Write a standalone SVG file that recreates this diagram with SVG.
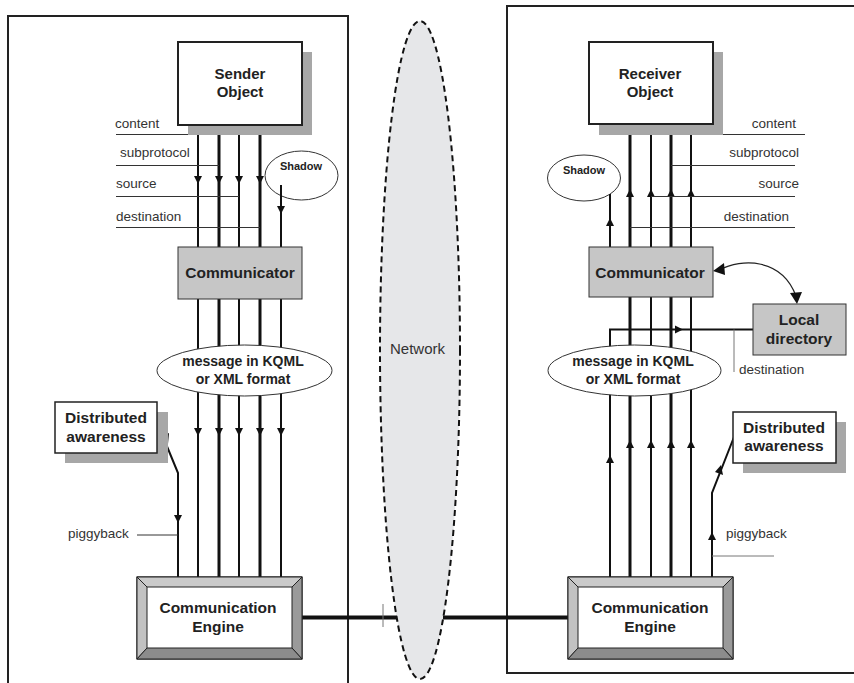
<svg xmlns="http://www.w3.org/2000/svg" xmlns:xlink="http://www.w3.org/1999/xlink" width="854" height="683" viewBox="0 0 854 683">
  <style>
    .bold { font-family: "Liberation Sans", Arial, sans-serif; font-weight: bold; fill: #222; text-anchor: middle; }
    .lbl { font-family: "Liberation Sans", Arial, sans-serif; font-size: 13.5px; fill: #333; }
    .frame { fill: none; stroke: #222; stroke-width: 2; }
    .box { fill: #fff; stroke: #222; stroke-width: 1.5; }
    .gray { fill: #c6c6c6; stroke: #333; stroke-width: 1; }
    .shade { fill: #a7a7a7; }
    .oval { fill: #fff; stroke: #333; stroke-width: 1; }
    .w2 { stroke: #111; stroke-width: 2; fill: none; }
    .w3 { stroke: #111; stroke-width: 3; fill: none; }
    .thin { stroke: #333; stroke-width: 1; fill: none; }
    .faint { stroke: #777; stroke-width: 1; fill: none; }
    .arrow { fill: #111; }
  </style>
  <defs>
    <path id="ahD" d="M-4,-8 L4,-8 L0,0 Z"/>
    <path id="ahU" d="M-4,8 L4,8 L0,0 Z"/>
  </defs>

  <!-- host frames -->
  <path class="frame" d="M8,683 V16 H348 V683"/>
  <path class="frame" d="M856,6 H507 V673 H856"/>

  <!-- network cloud -->
  <g id="network">
    <ellipse cx="420" cy="350" rx="40" ry="329" fill="#e6e7e9" stroke="#111" stroke-width="2" stroke-dasharray="6,4"/>
    <text class="lbl" x="390" y="354" style="font-size:15px">Network</text>
  </g>

  <!-- connectors -->
  <g id="connectors">
    <!-- sender side: object to communicator -->
    <line class="w2" x1="198" y1="125" x2="198" y2="247"/>
    <line class="w3" x1="219" y1="125" x2="219" y2="247"/>
    <line class="w2" x1="239" y1="125" x2="239" y2="247"/>
    <line class="w3" x1="260" y1="125" x2="260" y2="247"/>
    <line class="w2" x1="281" y1="185" x2="281" y2="247"/>
    <use href="#ahD" x="198" y="184" class="arrow"/>
    <use href="#ahD" x="219" y="184" class="arrow"/>
    <use href="#ahD" x="239" y="184" class="arrow"/>
    <use href="#ahD" x="260" y="184" class="arrow"/>
    <use href="#ahD" x="281" y="214" class="arrow"/>
    <!-- sender field labels -->
    <line class="thin" x1="116" y1="134.5" x2="198" y2="134.5"/>
    <line class="thin" x1="116" y1="165.5" x2="219" y2="165.5"/>
    <line class="thin" x1="116" y1="196.5" x2="239" y2="196.5"/>
    <line class="thin" x1="116" y1="227.5" x2="260" y2="227.5"/>

    <!-- sender side: communicator to engine -->
    <line class="w2" x1="198" y1="299" x2="198" y2="577"/>
    <line class="w3" x1="219" y1="299" x2="219" y2="577"/>
    <line class="w2" x1="239" y1="299" x2="239" y2="577"/>
    <line class="w3" x1="260" y1="299" x2="260" y2="577"/>
    <line class="w2" x1="281" y1="299" x2="281" y2="577"/>
    <use href="#ahD" x="198" y="436" class="arrow"/>
    <use href="#ahD" x="219" y="436" class="arrow"/>
    <use href="#ahD" x="239" y="436" class="arrow"/>
    <use href="#ahD" x="260" y="436" class="arrow"/>
    <use href="#ahD" x="281" y="436" class="arrow"/>

    <!-- sender awareness piggyback -->
    <polyline class="w2" points="159,427 178,473 178,577"/>
    <use href="#ahD" x="178" y="523" class="arrow"/>
    <path class="arrow" d="M163,436 L169,433 L168,444 Z"/>
    <line class="thin" x1="137" y1="535" x2="178" y2="535"/>

    <!-- receiver side: communicator to object -->
    <line class="w3" x1="630" y1="124" x2="630" y2="247"/>
    <line class="w2" x1="651" y1="124" x2="651" y2="247"/>
    <line class="w3" x1="671" y1="124" x2="671" y2="247"/>
    <line class="w2" x1="691" y1="124" x2="691" y2="247"/>
    <line class="w2" x1="610" y1="194" x2="610" y2="247"/>
    <use href="#ahU" x="630" y="189" class="arrow"/>
    <use href="#ahU" x="651" y="189" class="arrow"/>
    <use href="#ahU" x="671" y="189" class="arrow"/>
    <use href="#ahU" x="691" y="189" class="arrow"/>
    <use href="#ahU" x="610" y="218" class="arrow"/>
    <!-- receiver field labels -->
    <line class="thin" x1="691" y1="134.5" x2="805" y2="134.5"/>
    <line class="thin" x1="671" y1="165.5" x2="795" y2="165.5"/>
    <line class="thin" x1="651" y1="196.5" x2="795" y2="196.5"/>
    <line class="thin" x1="630" y1="227.5" x2="795" y2="227.5"/>

    <!-- receiver side: engine to communicator -->
    <line class="w3" x1="630" y1="297" x2="630" y2="577"/>
    <line class="w2" x1="651" y1="297" x2="651" y2="577"/>
    <line class="w3" x1="671" y1="297" x2="671" y2="577"/>
    <line class="w2" x1="691" y1="297" x2="691" y2="577"/>
    <use href="#ahU" x="630" y="440" class="arrow"/>
    <use href="#ahU" x="651" y="440" class="arrow"/>
    <use href="#ahU" x="671" y="440" class="arrow"/>
    <use href="#ahU" x="691" y="440" class="arrow"/>

    <!-- destination lookup via local directory -->
    <polyline class="w2" points="610,577 610,329.5 753,329.5"/>
    <use href="#ahU" x="610" y="455" class="arrow"/>
    <path class="arrow" d="M683,329.5 L675,325.5 L675,333.5 Z"/>
    <line class="faint" x1="734" y1="329.5" x2="734" y2="372"/>
    <path d="M719,270 C742,258 782,258 796,296" fill="none" stroke="#222" stroke-width="1.2"/>
    <path class="arrow" d="M713,271 L724,263 L725,275 Z"/>
    <path class="arrow" d="M797,304 L790,293 L802,292 Z"/>

    <!-- receiver awareness piggyback -->
    <polyline class="w2" points="712,577 712,493 734,437"/>
    <use href="#ahU" x="712" y="532" class="arrow"/>
    <path class="arrow" d="M721,465 L715,472 L723,475 Z"/>
    <line class="faint" x1="712" y1="556" x2="774" y2="556"/>

    <!-- engine links across the network -->
    <line x1="302" y1="617.5" x2="397" y2="617.5" stroke="#111" stroke-width="4"/>
    <line class="faint" x1="383" y1="604" x2="383" y2="627"/>
    <line x1="443" y1="617.5" x2="568" y2="617.5" stroke="#111" stroke-width="4"/>
  </g>

  <!-- field label texts -->
  <g id="field-labels">
    <text class="lbl" x="115" y="128">content</text>
    <text class="lbl" x="120" y="157">subprotocol</text>
    <text class="lbl" x="116" y="188">source</text>
    <text class="lbl" x="116" y="221">destination</text>
    <text class="lbl" x="68" y="538">piggyback</text>
    <text class="lbl" x="796" y="128" text-anchor="end">content</text>
    <text class="lbl" x="799" y="157" text-anchor="end">subprotocol</text>
    <text class="lbl" x="799" y="188" text-anchor="end">source</text>
    <text class="lbl" x="789" y="221" text-anchor="end">destination</text>
    <text class="lbl" x="726" y="538">piggyback</text>
    <text class="lbl" x="739" y="374">destination</text>
  </g>

  <!-- sender object -->
  <g id="sender-object">
    <rect class="shade" x="188" y="52" width="124" height="83"/>
    <rect class="box" x="178" y="42" width="124" height="83" style="stroke-width:2"/>
    <text class="bold" x="240" y="79" font-size="15">Sender</text>
    <text class="bold" x="240" y="97" font-size="15">Object</text>
  </g>

  <!-- receiver object -->
  <g id="receiver-object">
    <rect class="shade" x="599" y="52" width="124" height="83"/>
    <rect class="box" x="589" y="42" width="124" height="82" style="stroke-width:2"/>
    <text class="bold" x="650" y="79" font-size="15">Receiver</text>
    <text class="bold" x="650" y="97" font-size="15">Object</text>
  </g>

  <!-- shadows -->
  <g id="sender-shadow">
    <ellipse class="oval" cx="301.5" cy="175.5" rx="36.5" ry="24.5"/>
    <text class="bold" x="301" y="170" font-size="11">Shadow</text>
    <line class="w2" x1="281" y1="185" x2="281" y2="200"/>
  </g>
  <g id="receiver-shadow">
    <ellipse class="oval" cx="584" cy="178" rx="36.5" ry="23"/>
    <text class="bold" x="584" y="174" font-size="11">Shadow</text>
    <line class="w2" x1="610" y1="194" x2="610" y2="201"/>
  </g>

  <!-- communicators -->
  <g id="sender-communicator">
    <rect class="gray" x="178" y="247" width="124" height="52"/>
    <text class="bold" x="240" y="278" font-size="15.5">Communicator</text>
  </g>
  <g id="receiver-communicator">
    <rect class="gray" x="589" y="247" width="124" height="50"/>
    <text class="bold" x="650" y="278" font-size="15.5">Communicator</text>
  </g>

  <!-- message ellipses -->
  <g id="sender-message">
    <ellipse class="oval" cx="244.5" cy="370.5" rx="87.5" ry="25.5"/>
    <text class="bold" x="243" y="366" font-size="14">message in KQML</text>
    <text class="bold" x="243" y="384" font-size="14">or XML format</text>
  </g>
  <g id="receiver-message">
    <ellipse class="oval" cx="634.5" cy="370.5" rx="86.5" ry="25.5"/>
    <text class="bold" x="633" y="366" font-size="14">message in KQML</text>
    <text class="bold" x="633" y="384" font-size="14">or XML format</text>
  </g>

  <!-- local directory -->
  <g id="local-directory">
    <rect class="gray" x="753" y="304" width="93" height="51"/>
    <text class="bold" x="799" y="325" font-size="15.5">Local</text>
    <text class="bold" x="799" y="344" font-size="15.5">directory</text>
  </g>

  <!-- distributed awareness -->
  <g id="sender-awareness">
    <rect class="shade" x="65" y="412" width="103" height="51"/>
    <rect class="box" x="55" y="402" width="102" height="51"/>
    <text class="bold" x="106" y="423" font-size="15.5">Distributed</text>
    <text class="bold" x="106" y="442" font-size="15.5">awareness</text>
  </g>
  <g id="receiver-awareness">
    <rect class="shade" x="743" y="422" width="103" height="51"/>
    <rect class="box" x="733" y="412" width="103" height="51"/>
    <text class="bold" x="784" y="433" font-size="15.5">Distributed</text>
    <text class="bold" x="784" y="451" font-size="15.5">awareness</text>
  </g>

  <!-- communication engines (bevelled) -->
  <g id="sender-engine">
    <rect x="137" y="577" width="165" height="82" fill="#fff" stroke="#222" stroke-width="1.2"/>
    <polygon points="137,577 302,577 292,587 147,587" fill="#cacaca" stroke="#222" stroke-width="1"/>
    <polygon points="137,577 147,587 147,648 137,659" fill="#c2c2c2" stroke="#222" stroke-width="1"/>
    <polygon points="302,577 292,587 292,648 302,659" fill="#9a9a9a" stroke="#222" stroke-width="1"/>
    <polygon points="137,659 147,648 292,648 302,659" fill="#8c8c8c" stroke="#222" stroke-width="1"/>
    <text class="bold" x="218" y="613" font-size="15.5">Communication</text>
    <text class="bold" x="218" y="632" font-size="15.5">Engine</text>
  </g>
  <g id="receiver-engine">
    <rect x="568" y="577" width="165" height="82" fill="#fff" stroke="#222" stroke-width="1.2"/>
    <polygon points="568,577 733,577 723,587 578,587" fill="#cacaca" stroke="#222" stroke-width="1"/>
    <polygon points="568,577 578,587 578,648 568,659" fill="#c2c2c2" stroke="#222" stroke-width="1"/>
    <polygon points="733,577 723,587 723,648 733,659" fill="#9a9a9a" stroke="#222" stroke-width="1"/>
    <polygon points="568,659 578,648 723,648 733,659" fill="#8c8c8c" stroke="#222" stroke-width="1"/>
    <text class="bold" x="650" y="613" font-size="15.5">Communication</text>
    <text class="bold" x="650" y="632" font-size="15.5">Engine</text>
  </g>
</svg>
